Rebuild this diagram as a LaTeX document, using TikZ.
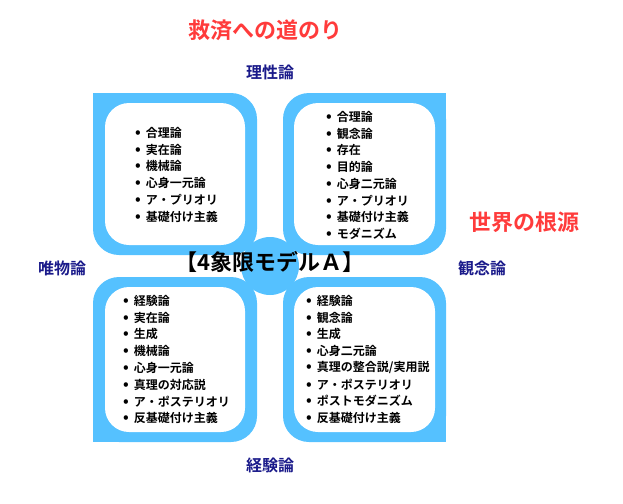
\documentclass[tikz,border=0pt]{standalone}
\usepackage{fontspec}
\setmainfont{Noto Sans CJK JP}[BoldFont={Noto Sans CJK JP Bold}]
\definecolor{qblue}{HTML}{55C1FF}
\definecolor{ttlred}{HTML}{FF3B3B}
\definecolor{navy}{HTML}{1A1A8A}
\begin{document}
\begin{tikzpicture}[x=1pt,y=-1pt,
  item/.style={anchor=west,font=\bfseries\fontsize{12}{14}\selectfont,inner sep=0},
  axis/.style={font=\bfseries\fontsize{16}{18}\selectfont,text=navy},
  ttl/.style={font=\bfseries\fontsize{22}{24}\selectfont,text=ttlred}]
\useasboundingbox (0,0) rectangle (623,503);
% blocks
\fill[qblue,rounded corners=26] (93,93) rectangle (257,255);
\fill[qblue] (93,93) rectangle (120,120);
\fill[qblue,rounded corners=26] (283,93) rectangle (446,255);
\fill[qblue] (420,93) rectangle (446,120);
\fill[qblue,rounded corners=26] (93,277) rectangle (257,442);
\fill[qblue] (93,415) rectangle (120,442);
\fill[qblue,rounded corners=26] (283,277) rectangle (446,442);
\fill[qblue] (420,415) rectangle (446,442);
\foreach \x/\y/\X/\Y in {105/103/245/245, 294/103/435/245, 105/287/245/432, 294/287/435/432}
  \fill[white,rounded corners=24] (\x,\y) rectangle (\X,\Y);
\node[circle,fill=qblue,minimum size=58pt,inner sep=0] (c) at (270,266) {};
\node[font=\bfseries\fontsize{22}{24}\selectfont] (t) at (270,262) {【4象限モデルＡ】};
% lists
\foreach \s [count=\i] in {合理論,実在論,機械論,心身一元論,ア・プリオリ,基礎付け主義}
  \node[item] (a\i) at (135,133+16.7*\i-16.7) {{\fontsize{15}{14}\selectfont•}\hspace{5pt}\s};
\foreach \s [count=\i] in {合理論,観念論,存在,目的論,心身二元論,ア・プリオリ,基礎付け主義,モダニズム}
  \node[item] (b\i) at (326,117+16.7*\i-16.7) {{\fontsize{15}{14}\selectfont•}\hspace{5pt}\s};
\foreach \s [count=\i] in {経験論,実在論,生成,機械論,心身一元論,真理の対応説,ア・ポステリオリ,反基礎付け主義}
  \node[item] (d\i) at (123,301+16.7*\i-16.7) {{\fontsize{15}{14}\selectfont•}\hspace{5pt}\s};
\foreach \s [count=\i] in {経験論,観念論,生成,心身二元論,真理の整合説/実用説,ア・ポステリオリ,ポストモダニズム,反基礎付け主義}
  \node[item] (e\i) at (306,301+16.7*\i-16.7) {{\fontsize{15}{14}\selectfont•}\hspace{5pt}\s};
% labels
\node[ttl] (r1) at (265,30) {救済への道のり};
\node[ttl] (r2) at (524,222) {世界の根源};
\node[axis] (l1) at (270,72) {理性論};
\node[axis] (l2) at (62,268) {唯物論};
\node[axis] (l3) at (482,268) {観念論};
\node[axis] (l4) at (270,465) {経験論};
\end{tikzpicture}
\end{document}
